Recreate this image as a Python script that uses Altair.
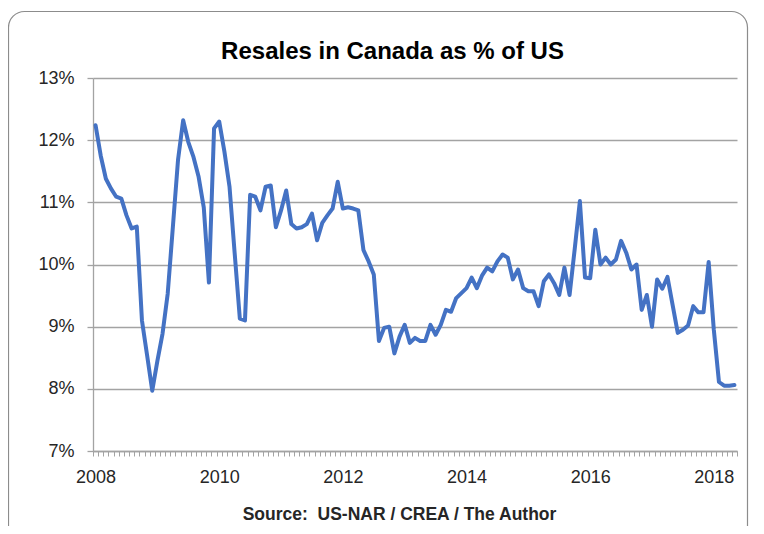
import altair as alt
import pandas as pd

# ---------------- data ----------------
MONTHS = [f"{y}-{m:02d}" for y in range(2008, 2019) for m in range(1, 13)][:125]

RATIO = [
    12.24, 11.75, 11.38, 11.22, 11.09, 11.06, 10.79, 10.58, 10.61, 9.10, 8.54, 7.97,   # 2008
    8.45, 8.89, 9.53, 10.60, 11.68, 12.32, 11.97, 11.73, 11.41, 10.92, 9.71, 12.19,    # 2009
    12.30, 11.82, 11.25, 10.18, 9.13, 9.10, 11.12, 11.09, 10.87, 11.25, 11.27, 10.60,  # 2010
    10.87, 11.19, 10.65, 10.58, 10.60, 10.65, 10.82, 10.39, 10.67, 10.79, 10.90, 11.33,  # 2011
    10.90, 10.92, 10.90, 10.87, 10.23, 10.05, 9.84, 8.77, 8.98, 9.00, 8.57, 8.84,      # 2012
    9.03, 8.74, 8.82, 8.77, 8.77, 9.03, 8.87, 9.03, 9.27, 9.24, 9.46, 9.54,            # 2013
    9.62, 9.79, 9.62, 9.82, 9.95, 9.89, 10.05, 10.16, 10.11, 9.76, 9.92, 9.62,         # 2014
    9.57, 9.57, 9.33, 9.73, 9.84, 9.70, 9.51, 9.95, 9.51, 10.25, 11.02, 9.79,          # 2015
    9.78, 10.56, 10.00, 10.11, 10.00, 10.08, 10.38, 10.19, 9.92, 10.00, 9.27, 9.51,    # 2016
    9.00, 9.76, 9.61, 9.80, 9.35, 8.90, 8.95, 9.02, 9.33, 9.23, 9.23, 10.04,           # 2017
    8.95, 8.11, 8.05, 8.05, 8.06,                                                      # 2018
]

YEAR_LABELS = ["2008", "2010", "2012", "2014", "2016", "2018"]
Y_TICKS = [7, 8, 9, 10, 11, 12, 13]

TITLE = "Resales in Canada as % of US"
SOURCE = "Source:\u00a0 US-NAR / CREA / The Author"

df = pd.DataFrame({"month": MONTHS, "idx": list(range(len(MONTHS))), "ratio": RATIO})

# month boundaries (Excel-style category ticks)
BOUNDS = [i - 0.5 for i in range(len(MONTHS) + 1)]

# ---------------- style ----------------
LINE = "#4472C4"
GRID = "#a3a3a3"
TEXT = "#262626"
FONT = "Liberation Sans"

W, H = 644, 373
PAD = {"left": 85, "top": 70, "right": 19, "bottom": 75}
MONTH_PX = W / len(MONTHS)

label_expr = (
    "(datum.value + 0.5) % 24 == 0 ? " + str(YEAR_LABELS)
    + "[(datum.value + 0.5) / 24] : ''"
)

line = alt.Chart(df).mark_line(
    color=LINE, strokeWidth=4, strokeJoin="round", strokeCap="round"
).encode(
    x=alt.X(
        "idx:Q",
        scale=alt.Scale(domain=[BOUNDS[0], BOUNDS[-1]], nice=False, zero=False),
        axis=alt.Axis(
            orient="bottom",
            values=BOUNDS,
            labelExpr=label_expr,
            labelOffset=MONTH_PX / 2,
            labelAngle=0,
            labelOverlap=False,
            labelBound=False,
            labelFlush=False,
            labelFont=FONT,
            labelFontSize=18,
            labelColor=TEXT,
            labelPadding=12,
            tickSize=5,
            tickColor=GRID,
            tickWidth=1,
            domainColor=GRID,
            domainWidth=1.3,
            grid=False,
            title=SOURCE,
            titleFont=FONT,
            titleFontSize=17.5,
            titleFontWeight="bold",
            titleColor=TEXT,
            titleAlign="center",
            titleBaseline="alphabetic",
            titleX=306,
            titleY=68,
        ),
    ),
    y=alt.Y(
        "ratio:Q",
        scale=alt.Scale(domain=[7, 13], nice=False, zero=False),
        axis=alt.Axis(
            orient="left",
            values=Y_TICKS,
            labelExpr="datum.value + '%'",
            labelFont=FONT,
            labelFontSize=18,
            labelColor=TEXT,
            labelPadding=13,
            tickSize=6,
            tickColor=GRID,
            tickWidth=1.3,
            domainColor=GRID,
            domainWidth=1.3,
            grid=True,
            gridColor=GRID,
            gridWidth=1.3,
            title=TITLE,
            titleFont=FONT,
            titleFontSize=24,
            titleFontWeight="bold",
            titleColor="#000000",
            titleAngle=0,
            titleAlign="center",
            titleBaseline="alphabetic",
            titleX=299,
            titleY=-20,
        ),
    ),
)

border = alt.Chart(pd.DataFrame({"k": [0]})).mark_rect(
    fill="transparent", stroke="#8c8c8c", strokeWidth=1.2, cornerRadius=16
).encode(
    x=alt.value(-84.5), x2=alt.value(654.5), y=alt.value(-66.5), y2=alt.value(480)
)

chart = alt.layer(line, border).properties(
    width=W,
    height=H,
    autosize=alt.AutoSizeParams(type="none"),
    padding=PAD,
    background="white",
).configure_view(strokeWidth=0)

chart.save("out.html", embed_options={"renderer": "svg", "actions": False})
